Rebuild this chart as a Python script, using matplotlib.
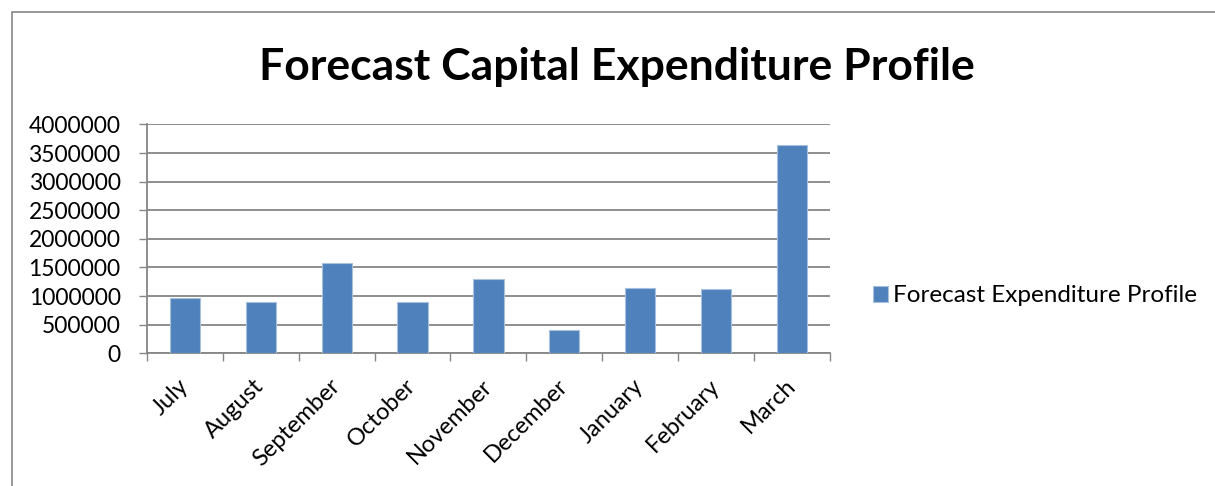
import matplotlib.pyplot as plt
from matplotlib.patches import Rectangle

months = ["July", "August", "September", "October", "November",
          "December", "January", "February", "March"]
spend = [960000, 890000, 1580000, 890000, 1290000,
         407000, 1150000, 1118000, 3640000]
series_name = "Forecast Expenditure Profile"
title = "Forecast Capital Expenditure Profile"

plt.rcParams['font.family'] = ['Lato', 'DejaVu Sans']
grey = '#868686'
blue = '#4F81BD'

fig = plt.figure(figsize=(12.15, 4.86), dpi=100)
ax = fig.add_axes([0.121, 0.273, 0.562, 0.471])

x = range(len(months))
ax.bar(x, spend, width=0.4, color=blue, edgecolor='#A7C0DE', linewidth=0.8,
       label=series_name, zorder=3)

ax.set_xlim(-0.5, len(months) - 0.5)
ax.set_ylim(0, 4000000)
ax.set_yticks(range(0, 4000001, 500000))
ax.set_yticklabels([str(v) for v in range(0, 4000001, 500000)], fontsize=16.5)
ax.yaxis.grid(True, color=grey, linewidth=1.3, zorder=0)
ax.tick_params(axis='y', length=6, width=1, color=grey, pad=13)

# month labels sit at bar centres, tick marks at the category boundaries
ax.set_xticks([i - 0.5 for i in range(len(months) + 1)])
ax.set_xticklabels([])
ax.tick_params(axis='x', length=6, width=1, color=grey)
ax.set_xticks(list(x), minor=True)
ax.set_xticklabels(months, minor=True, fontsize=17, rotation=45,
                   ha='right', va='center', rotation_mode='anchor')
ax.tick_params(axis='x', which='minor', length=0, pad=21)

for side in ['top', 'right']:
    ax.spines[side].set_visible(False)
for side in ['left', 'bottom']:
    ax.spines[side].set_color(grey)
    ax.spines[side].set_linewidth(1.3)

fig.text(0.508, 0.862, title, fontsize=32, fontweight='bold',
         ha='center', va='center')

fig.legend(loc='center left', bbox_to_anchor=(0.7006, 0.391), frameon=False,
           fontsize=17.5, handlelength=0.6, handleheight=0.6, handletextpad=0.2)

# outer chart frame
fig.patches.append(Rectangle((12 / 1215, -0.2), 1.2, 1.2 - 12 / 486,
                             transform=fig.transFigure, fill=False,
                             edgecolor=grey, linewidth=1.2))

fig.savefig('out.png', dpi=100)
